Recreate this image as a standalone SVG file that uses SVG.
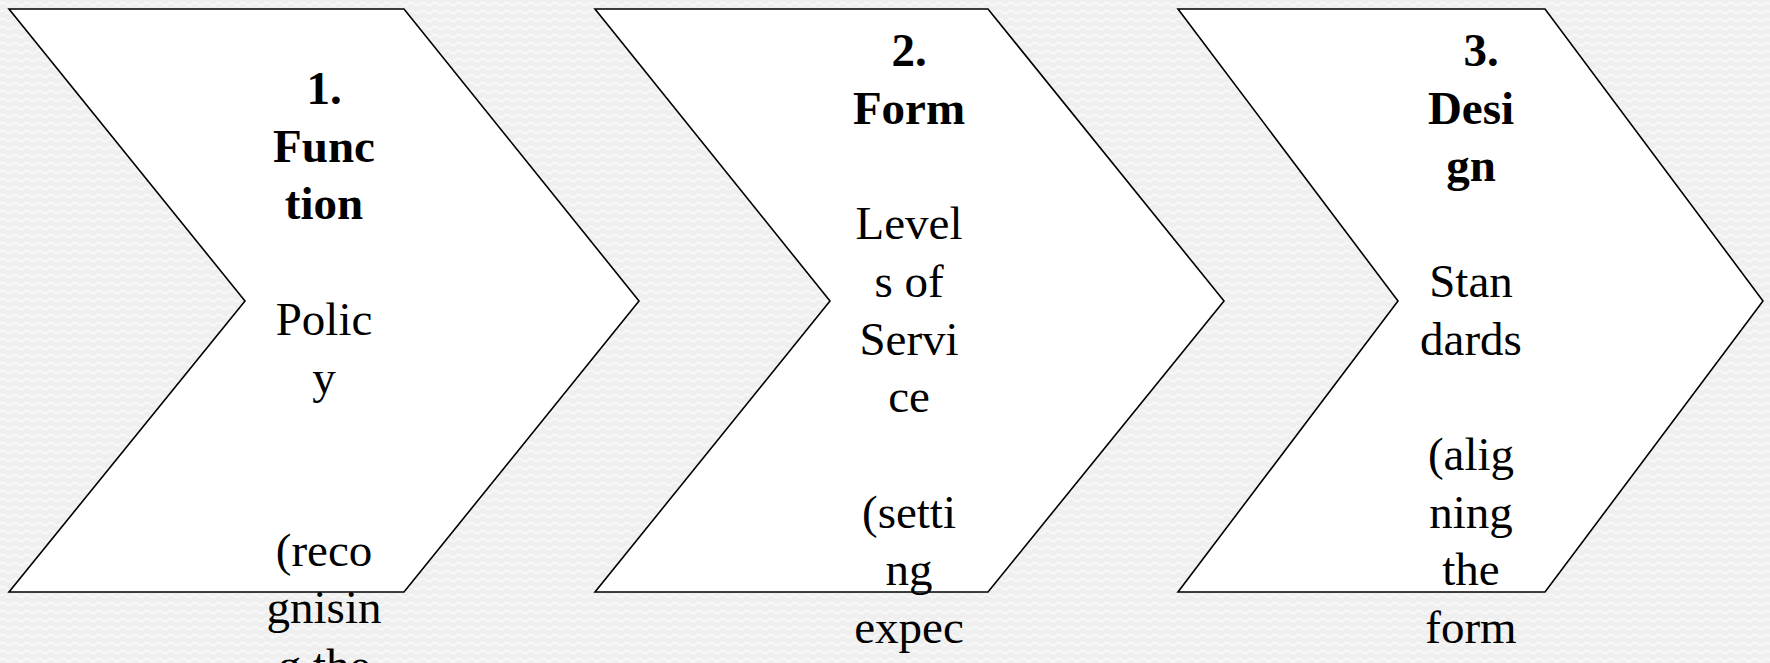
<svg xmlns="http://www.w3.org/2000/svg" width="1770" height="663" viewBox="0 0 1770 663">
<defs>
<pattern id="bgwave" x="0" y="0" width="12" height="8" patternUnits="userSpaceOnUse">
<rect width="12" height="8" fill="#efefef"/>
<path d="M0 4 Q3 1 6 4 T12 4" fill="none" stroke="#fafafa" stroke-width="1.4"/>
</pattern>
<style>
.chev{fill:#ffffff;stroke:#000000;stroke-width:1.6;stroke-linejoin:miter}
.t{font-family:"Liberation Serif","Times New Roman",serif;font-size:47px;fill:#000000;text-anchor:middle}
.b{font-weight:bold}
</style>
</defs>
<rect width="1770" height="663" fill="url(#bgwave)"/>
<g id="connectors"></g>
<g id="node1">
<polygon class="chev" points="9,9 404,9 639,301 404,592 9,592 245,301"/>
<text class="t b" x="324" y="104">1.</text>
<text class="t b" x="324" y="161.7">Func</text>
<text class="t b" x="324" y="219.4">tion</text>
<text class="t" x="324" y="334.8">Polic</text>
<text class="t" x="324" y="392.5">y</text>
<text class="t" x="324" y="565.6">(reco</text>
<text class="t" x="324" y="623.3">gnisin</text>
<text class="t" x="324" y="681">g the</text>
</g>
<g id="node2">
<polygon class="chev" points="595,9 988,9 1224,301 988,592 595,592 830,301"/>
<text class="t b" x="909" y="66">2.</text>
<text class="t b" x="909" y="123.7">Form</text>
<text class="t" x="909" y="239.1">Level</text>
<text class="t" x="909" y="296.8">s of</text>
<text class="t" x="909" y="354.5">Servi</text>
<text class="t" x="909" y="412.2">ce</text>
<text class="t" x="909" y="527.6">(setti</text>
<text class="t" x="909" y="585.3">ng</text>
<text class="t" x="909" y="643">expec</text>
</g>
<g id="node3">
<polygon class="chev" points="1178,9 1545,9 1763,301 1545,592 1178,592 1398,301"/>
<text class="t b" x="1481" y="66">3.</text>
<text class="t b" x="1471" y="123.7">Desi</text>
<text class="t b" x="1471" y="181.4">gn</text>
<text class="t" x="1471" y="296.8">Stan</text>
<text class="t" x="1471" y="354.5">dards</text>
<text class="t" x="1471" y="469.9">(alig</text>
<text class="t" x="1471" y="527.6">ning</text>
<text class="t" x="1471" y="585.3">the</text>
<text class="t" x="1471" y="643">form</text>
</g>
</svg>
